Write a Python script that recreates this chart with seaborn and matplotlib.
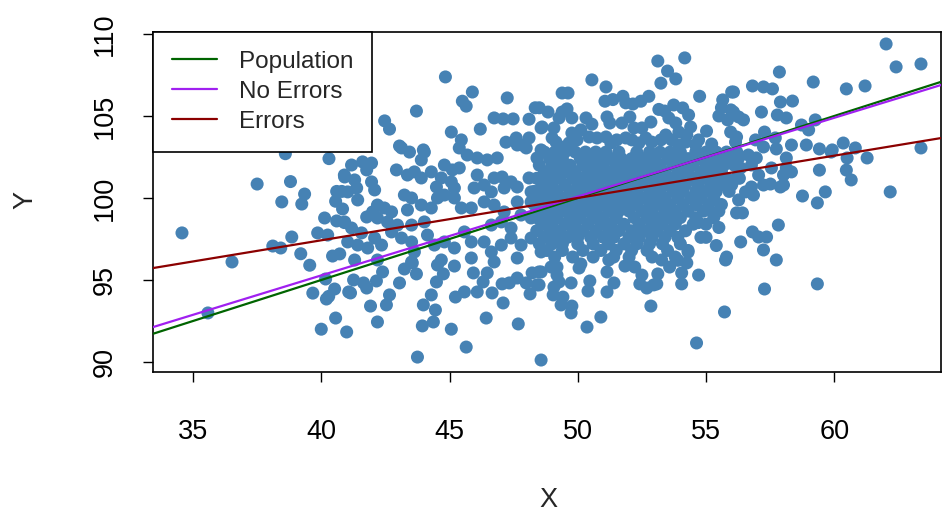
import matplotlib
matplotlib.use("Agg")
import matplotlib.pyplot as plt
import seaborn as sns
import pandas as pd

# ---------------- data ----------------
left_pts = [
    (34.57, 97.87), (35.58, 92.99), (36.52, 96.10), (37.50, 100.85), (38.11, 97.07),
    (38.42, 96.95), (38.60, 102.70), (38.80, 101.00), (38.85, 97.62), (38.46, 99.76),
    (39.24, 99.63), (39.35, 100.24), (39.20, 96.60), (39.55, 95.90), (39.67, 94.20),
    (39.86, 97.87), (40.00, 92.00), (40.13, 98.78), (40.17, 95.06), (40.25, 97.74),
    (40.30, 102.40), (40.44, 96.46), (40.52, 94.45), (40.56, 99.80), (40.56, 92.68),
    (40.60, 100.40), (40.60, 98.60), (40.72, 96.59), (40.80, 100.40), (40.83, 99.33),
    (40.90, 98.50), (40.90, 101.40), (40.99, 91.83), (41.07, 94.27), (40.29, 94.00),
    (40.20, 93.84), (40.52, 105.91), (40.68, 104.15),
]

upper_pts = [
    (44.84, 107.38), (45.89, 106.46), (45.50, 105.90), (45.65, 105.60), (47.25, 106.10),
    (43.71, 105.30), (48.34, 105.50), (42.47, 104.70), (42.66, 104.20), (46.74, 104.88),
    (47.09, 104.82), (47.48, 104.82), (48.10, 104.80), (48.57, 104.27), (45.07, 104.02),
    (46.20, 104.20), (45.46, 103.54), (43.05, 103.17), (43.98, 102.93), (47.20, 103.40),
    (47.60, 103.66), (48.10, 103.66), (47.83, 103.23),
]

top_pts = [
    (53.12, 108.35), (54.17, 108.54), (53.50, 107.74), (53.82, 107.26), (53.24, 107.00),
    (50.55, 107.20), (51.10, 106.77), (49.39, 106.40), (49.62, 106.40), (54.75, 106.20),
    (56.00, 106.46), (55.65, 105.98), (51.06, 105.90), (51.37, 106.00), (51.76, 106.20),
    (52.77, 106.20), (52.46, 105.90), (52.15, 105.73), (51.87, 105.80), (53.16, 105.40),
    (53.39, 105.30), (53.74, 105.67), (54.09, 105.49), (54.32, 105.06), (55.60, 105.50),
    (55.97, 105.37), (55.50, 105.00), (55.84, 104.76), (48.84, 105.24), (48.50, 105.50),
    (49.39, 105.24), (49.58, 105.43), (49.27, 104.88), (49.77, 104.88), (50.32, 104.88),
    (50.55, 104.50), (51.14, 104.94), (51.25, 104.57), (51.72, 104.57), (52.03, 104.94),
    (52.85, 104.63), (52.50, 104.27), (52.19, 104.27), (53.55, 104.88), (53.82, 104.57),
    (53.94, 104.02), (54.40, 104.33), (54.25, 103.84), (55.02, 104.08), (55.22, 103.29),
    (54.71, 103.54), (55.96, 104.02), (56.15, 103.41), (48.61, 104.33), (49.07, 104.27),
    (49.00, 103.66), (49.15, 103.41), (49.77, 103.96), (50.12, 104.15), (49.97, 103.54),
    (49.66, 103.35), (49.46, 103.10), (50.44, 103.72), (50.75, 103.66), (51.10, 103.72),
    (51.29, 103.35), (51.52, 103.54), (51.87, 103.66), (52.11, 103.54), (52.38, 103.35),
    (52.65, 103.66), (52.88, 103.41), (53.24, 103.54), (53.43, 103.84), (53.66, 103.54),
    (53.94, 103.23), (54.21, 103.41), (54.60, 103.23),
]

right_pts = [
    (62.02, 109.39), (62.41, 107.99), (63.38, 108.17), (57.86, 107.68), (59.18, 107.07),
    (56.81, 106.83), (57.24, 106.77), (57.59, 106.65), (56.07, 106.46), (60.47, 106.65),
    (61.20, 106.83), (57.90, 105.85), (58.37, 105.91), (57.16, 105.24), (57.78, 105.06),
    (58.13, 104.88), (56.07, 105.24), (56.27, 104.94), (56.46, 104.76), (58.72, 104.45),
    (59.00, 104.15), (59.26, 104.76), (57.28, 104.02), (57.70, 103.66), (56.19, 103.72),
    (56.93, 103.54), (58.33, 103.23), (58.91, 103.23), (59.42, 102.99), (59.92, 102.93),
    (60.35, 103.35), (60.82, 103.05), (63.38, 103.05), (57.24, 103.11), (57.74, 102.99),
    (59.88, 102.80), (61.28, 102.44), (60.50, 102.44), (59.42, 101.70), (60.47, 101.70),
    (60.66, 101.10), (62.18, 100.37), (59.65, 100.37), (58.76, 100.12), (59.34, 99.70),
    (58.13, 102.44), (58.13, 101.83), (58.33, 101.59), (58.02, 101.40), (57.55, 101.83),
    (57.24, 100.79), (57.51, 100.85), (57.90, 100.67), (58.02, 100.79), (56.77, 100.67),
    (56.85, 100.18), (56.27, 99.88), (56.19, 99.09), (56.42, 99.09), (57.82, 98.35),
    (56.81, 97.93), (57.05, 97.62), (57.36, 97.62), (56.35, 97.32), (57.24, 96.83),
    (57.74, 96.22), (57.28, 94.45), (59.34, 94.76), (56.27, 102.44), (56.65, 102.62),
    (56.96, 102.44), (56.77, 102.01), (56.35, 101.83), (56.19, 101.22), (56.54, 100.37),
    (57.05, 101.40),
]

lower_pts = [
    (48.57, 90.12), (54.63, 91.16), (55.72, 93.05), (50.36, 92.13), (50.90, 92.74),
    (52.85, 93.41), (49.74, 92.99), (49.77, 93.41), (49.35, 93.48), (49.42, 93.96),
    (49.04, 94.09), (49.07, 94.57), (49.27, 94.88), (49.19, 95.30), (49.74, 94.82),
    (48.96, 95.79), (49.19, 95.79), (48.49, 95.49), (48.49, 94.70), (50.40, 94.33),
    (50.47, 94.94), (50.05, 95.73), (50.12, 95.98), (51.14, 94.27), (51.41, 94.82),
    (51.14, 95.49), (51.21, 96.22), (51.84, 95.85), (52.22, 95.79), (52.50, 95.30),
    (52.42, 94.76), (52.69, 94.51), (52.96, 94.70), (53.12, 95.37), (53.08, 94.76),
    (53.27, 96.22), (53.58, 95.79), (54.05, 95.43), (54.05, 94.76), (54.25, 96.04),
    (54.71, 95.30), (55.76, 96.22), (43.75, 90.30), (45.65, 90.91), (45.07, 92.00),
    (43.94, 92.20), (44.37, 92.44), (46.43, 92.68), (47.68, 92.32), (42.19, 92.44),
    (41.92, 93.41), (42.54, 93.48), (42.66, 94.09), (41.14, 94.21), (43.98, 93.48),
    (44.45, 93.17), (44.29, 94.09), (45.23, 93.96), (45.58, 94.27), (47.09, 93.60),
    (48.14, 94.15), (41.26, 95.00), (41.65, 94.82), (41.77, 94.51), (42.15, 94.94),
    (42.39, 95.49), (43.05, 94.82), (43.24, 95.67), (43.55, 96.04), (43.71, 95.37),
    (44.49, 94.88), (44.76, 95.37), (44.53, 95.91), (45.19, 95.85), (45.93, 95.43),
    (46.08, 94.27), (46.66, 94.21), (46.31, 94.88), (46.47, 95.43), (47.05, 94.76),
    (47.33, 94.82), (47.64, 95.12), (47.99, 94.82), (48.22, 95.43), (48.41, 94.70),
    (48.57, 95.49), (55.30, 99.10), (54.70, 98.50), (55.50, 98.20), (55.00, 97.60),
    (55.40, 97.10), (55.80, 96.40), (54.30, 96.70), (53.90, 96.20),
]

mid_pts = [
    (43.13, 103.05), (43.44, 102.80), (44.02, 102.80), (43.90, 102.32), (45.38, 103.05),
    (45.69, 102.62), (46.08, 102.44), (46.47, 102.32), (46.86, 102.44), (47.64, 103.23),
    (47.99, 103.05), (48.57, 102.93), (48.41, 102.44), (41.61, 102.20), (41.96, 102.13),
    (41.77, 101.71), (41.18, 102.01), (40.91, 101.28), (42.93, 101.71), (43.36, 101.40),
    (43.63, 101.59), (44.29, 101.59), (43.90, 101.22), (44.80, 102.01), (45.11, 101.71),
    (45.38, 101.83), (44.68, 101.22), (45.07, 100.98), (44.49, 100.67), (45.19, 100.61),
    (46.08, 101.40), (46.74, 101.22), (47.05, 101.28), (47.40, 100.98), (46.35, 100.79),
    (45.96, 100.61), (46.63, 100.37), (47.13, 100.61), (47.64, 100.67), (48.10, 101.22),
    (48.57, 101.22), (48.18, 100.37), (48.69, 100.37), (41.30, 101.10), (41.38, 100.61),
    (41.03, 100.37), (41.96, 100.98), (42.08, 100.49), (41.42, 99.88), (42.19, 99.57),
    (42.46, 99.39), (42.00, 99.15), (41.77, 98.84), (42.19, 98.78), (43.24, 100.18),
    (43.52, 100.00), (43.90, 99.57), (44.29, 99.39), (43.36, 99.27), (42.74, 99.15),
    (42.58, 98.54), (42.97, 98.35), (43.52, 98.35), (44.02, 98.54), (44.53, 100.00),
    (44.80, 100.18), (45.19, 100.00), (45.46, 99.39), (45.85, 99.39), (46.35, 99.76),
    (46.74, 99.57), (47.13, 99.15), (47.64, 99.76), (48.18, 99.76), (48.69, 100.00),
    (47.79, 98.96), (48.18, 98.78), (48.57, 99.15), (46.63, 98.35), (47.02, 98.54),
    (47.40, 98.17), (40.91, 98.54), (41.18, 98.17), (41.57, 97.87), (41.03, 97.32),
    (41.42, 97.13), (41.81, 96.95), (42.08, 97.56), (42.35, 97.13), (42.74, 97.93),
    (43.13, 97.56), (43.52, 97.32), (43.63, 96.71), (44.14, 97.74), (44.41, 97.13),
    (44.80, 97.32), (45.19, 96.95), (45.58, 97.93), (45.85, 97.32), (46.35, 97.32),
    (46.63, 96.71), (47.02, 97.13), (47.40, 97.56), (47.79, 97.13), (48.18, 97.56),
    (48.57, 96.71), (47.64, 96.34), (46.74, 96.10), (45.85, 96.34), (44.68, 96.22),
    (43.52, 96.10), (42.19, 96.22), (41.30, 96.22),
]

# dense core: (Y level, X positions along that level)
core_rows = [
    (102.8, [48.7, 49.1, 49.5, 49.9, 50.3, 50.7, 51.1, 51.6, 52.3, 52.8, 53.2, 53.6, 54.0, 54.6, 55.0, 55.4, 55.8, 56.2]),
    (102.4, [48.9, 49.4, 50.1, 50.5, 50.9, 51.3, 51.7, 52.1, 52.6, 53.0, 53.5, 53.9, 54.3, 54.7, 55.1, 55.5, 55.9]),
    (102.0, [48.5, 49.0, 49.3, 49.7, 50.2, 50.6, 51.0, 51.5, 51.9, 52.4, 52.8, 53.2, 53.7, 54.1, 54.5, 55.0, 55.3, 55.7, 56.1]),
    (101.6, [48.7, 49.1, 49.5, 49.9, 50.4, 50.8, 51.2, 51.7, 52.1, 52.6, 53.0, 53.4, 53.9, 54.3, 54.8, 55.2, 55.6]),
    (101.2, [48.4, 48.9, 49.3, 49.8, 50.2, 50.6, 51.0, 51.4, 51.9, 52.3, 52.8, 53.2, 53.6, 54.0, 54.5, 55.0, 55.4, 55.8, 56.3]),
    (100.8, [48.6, 49.0, 49.5, 50.0, 50.4, 50.8, 51.3, 51.7, 52.1, 52.5, 53.0, 53.4, 53.8, 54.2, 54.7, 55.2, 55.6, 56.0]),
    (100.4, [48.3, 48.8, 49.2, 49.7, 50.1, 50.6, 51.0, 51.5, 51.9, 52.3, 52.8, 53.2, 53.7, 54.1, 54.6, 55.0, 55.4, 55.9]),
    (100.0, [48.5, 49.0, 49.4, 49.9, 50.3, 50.8, 51.2, 51.7, 52.1, 52.6, 53.0, 53.4, 53.9, 54.4, 54.8, 55.3]),
    (99.6, [48.3, 48.7, 49.2, 49.6, 50.1, 50.5, 51.0, 51.4, 51.9, 52.3, 52.8, 53.2, 53.6, 54.1, 54.6, 55.1, 55.6]),
    (99.2, [48.5, 48.9, 49.4, 49.8, 50.3, 50.7, 51.2, 51.6, 52.0, 52.5, 52.9, 53.4, 53.8, 54.3, 54.9, 55.5]),
    (98.8, [48.4, 48.8, 49.2, 49.7, 50.1, 50.6, 51.0, 51.5, 52.2, 52.7, 53.1, 53.5, 54.0, 54.6, 55.3]),
    (98.4, [48.6, 49.0, 49.5, 49.9, 50.4, 50.9, 51.3, 51.8, 52.4, 52.9, 53.3, 53.8, 54.5, 55.0]),
    (98.0, [48.4, 48.9, 49.3, 49.8, 50.2, 50.7, 51.2, 51.6, 52.1, 52.6, 53.1, 53.6, 54.2]),
    (97.6, [48.7, 49.1, 49.6, 50.0, 50.5, 51.0, 51.4, 52.0, 52.4, 52.9, 53.4, 53.9, 54.8]),
    (97.2, [48.5, 49.0, 49.4, 50.0, 50.6, 51.2, 51.8, 52.3, 52.8, 53.3, 54.0]),
    (96.8, [48.8, 49.4, 50.2, 50.9, 51.5, 52.1, 52.7, 53.5, 54.3]),
    (96.4, [49.1, 49.8, 50.6, 51.4, 52.0, 52.9, 53.8]),
]

# regression lines: name, intercept, slope, colour
line_names = ["Population", "No Errors", "Errors"]
line_intercepts = [75.0, 76.06, 87.10]
line_slopes = [0.500, 0.4805, 0.258]
line_colors = ["#006400", "#A020F0", "#8B0000"]

x_ticks = [35, 40, 45, 50, 55, 60]
y_ticks = [90, 95, 100, 105, 110]
x_limits = (33.44, 64.16)
y_limits = (89.39, 110.12)

# ---------------- build the frame ----------------
pts = left_pts + upper_pts + top_pts + right_pts + lower_pts + mid_pts
for yv, xs in core_rows:
    pts += [(xv, yv) for xv in xs]
df = pd.DataFrame(pts, columns=["X", "Y"])

sns.set_style("ticks")
plt.rcParams["font.family"] = ["Liberation Sans", "DejaVu Sans"]

fig = plt.figure(figsize=(9.43, 5.16), dpi=100)
ax = fig.add_axes([153 / 943, (516 - 372) / 516, (941 - 153) / 943, (372 - 32) / 516])

sns.scatterplot(data=df, x="X", y="Y", ax=ax, color="#4682B4", s=88,
                linewidth=0, edgecolor="none", zorder=2)

for name, b0, b1, col in zip(line_names, line_intercepts, line_slopes, line_colors):
    ax.axline((0, b0), slope=b1, color=col, lw=1.6, label=name, zorder=3)

ax.set_xlim(*x_limits)
ax.set_ylim(*y_limits)
ax.set_xticks(x_ticks)
ax.set_yticks(y_ticks)
ax.tick_params(axis="both", direction="out", length=7.5, width=1, labelsize=19.5, colors="black")
ax.tick_params(axis="x", pad=26)
ax.tick_params(axis="y", pad=18)
for lab in ax.get_yticklabels():
    lab.set_rotation(90)
    lab.set_va("center")
for sp in ax.spines.values():
    sp.set_visible(True)
    sp.set_linewidth(1.2)
    sp.set_color("black")

ax.set_xlabel("X", fontsize=19.5)
ax.set_ylabel("Y", fontsize=19.5)
ax.xaxis.set_label_coords((548 - 153) / 788, (372 - 500) / 340)
ax.xaxis.label.set_va("center")
ax.yaxis.set_label_coords((25 - 153) / 788, (372 - 200) / 340)
ax.yaxis.label.set_va("center")

leg = ax.legend(loc="upper left", bbox_to_anchor=(0, 1), borderaxespad=0,
                fancybox=False, framealpha=1, edgecolor="black", fontsize=17.5,
                handlelength=1.85, handletextpad=0.9, borderpad=0.78, labelspacing=0.32)
leg.get_frame().set_linewidth(1.2)

fig.savefig("out.png", dpi=100)
